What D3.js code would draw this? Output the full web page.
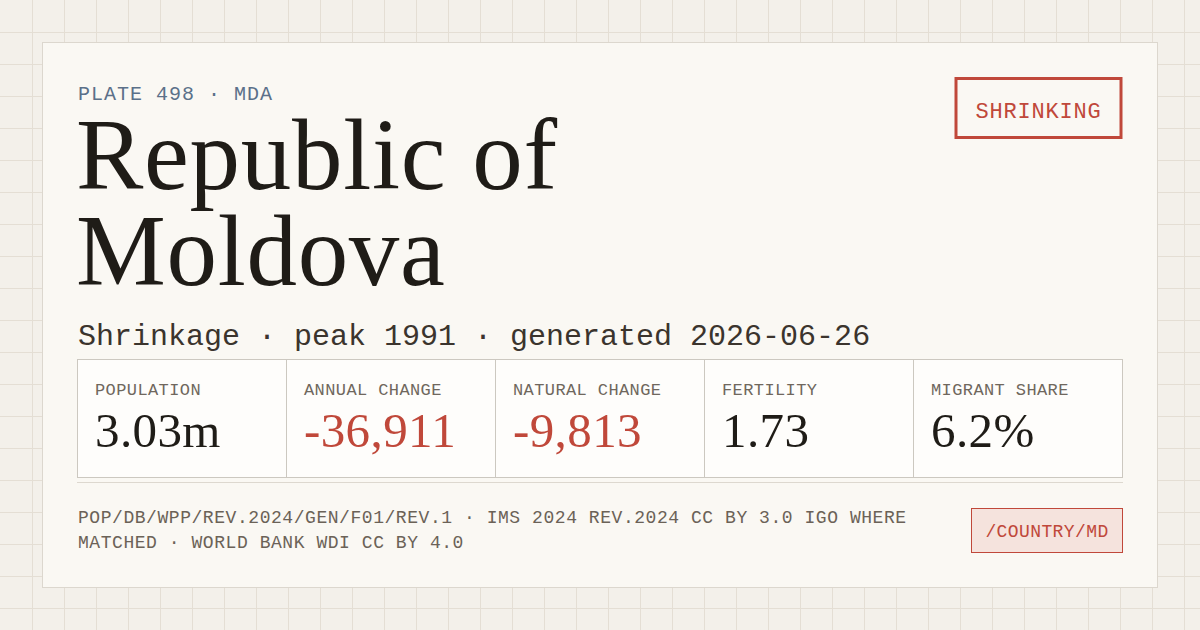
<!DOCTYPE html>
<html lang="en">
<head>
<meta charset="UTF-8">
<script src="https://cdn.jsdelivr.net/npm/d3@7"></script>
<title>Republic of Moldova</title>
<style>
  html, body { margin: 0; padding: 0; background: #f3f0ea; }
  svg { display: block; }
</style>
</head>
<body>
<script>
    var width = 1200;
    var height = 630;

    // card content
    var plate = "PLATE 498 · MDA";
    var titleLines = ["Republic of", "Moldova"];
    var subtitle = "Shrinkage · peak 1991 · generated 2026-06-26";
    var badge = "SHRINKING";

    // the five stats
    var statLabels = ["POPULATION", "ANNUAL CHANGE", "NATURAL CHANGE", "FERTILITY", "MIGRANT SHARE"];
    var statValues = ["3.03m", "-36,911", "-9,813", "1.73", "6.2%"];

    var footerLines = [
        "POP/DB/WPP/REV.2024/GEN/F01/REV.1 · IMS 2024 REV.2024 CC BY 3.0 IGO WHERE",
        "MATCHED · WORLD BANK WDI CC BY 4.0"
    ];
    var linkText = "/COUNTRY/MD";

    var mono = "'Liberation Mono', 'DejaVu Sans Mono', monospace";
    var serif = "'Liberation Serif', 'DejaVu Serif', serif";
    var red = "#c0483a";

    var svg = d3.select("body").append("svg")
        .attr("width", width)
        .attr("height", height);

    // background grid, 32px
    svg.append("rect").attr("width", width).attr("height", height).attr("fill", "#f3f0ea");
    var grid = svg.append("g").attr("stroke", "#e4ded4").attr("stroke-width", 1);
    grid.selectAll(".v").data(d3.range(32, width, 32)).enter().append("line")
        .attr("x1", function (d) { return d + 0.5; }).attr("x2", function (d) { return d + 0.5; })
        .attr("y1", 0).attr("y2", height);
    grid.selectAll(".h").data(d3.range(32, height, 32)).enter().append("line")
        .attr("y1", function (d) { return d + 0.5; }).attr("y2", function (d) { return d + 0.5; })
        .attr("x1", 0).attr("x2", width);

    // card
    svg.append("rect")
        .attr("x", 42.5).attr("y", 42.5)
        .attr("width", 1115).attr("height", 545)
        .attr("fill", "#faf8f3")
        .attr("stroke", "#dcd7ce");

    svg.append("text")
        .text(plate)
        .attr("x", 78).attr("y", 100)
        .attr("font-family", mono).attr("font-size", 20)
        .attr("letter-spacing", 1)
        .attr("fill", "#5b7089");

    svg.selectAll(".title").data(titleLines).enter().append("text")
        .text(function (d) { return d; })
        .attr("x", 76)
        .attr("y", function (d, i) { return 189 + i * 96; })
        .attr("font-family", serif).attr("font-size", 101)
        .attr("letter-spacing", 0.7)
        .attr("fill", "#1f1c17");

    svg.append("text")
        .text(subtitle)
        .attr("x", 78).attr("y", 345)
        .attr("font-family", mono).attr("font-size", 30)
        .attr("fill", "#3b342d");

    // badge
    svg.append("rect")
        .attr("x", 956).attr("y", 78.5)
        .attr("width", 165).attr("height", 59)
        .attr("fill", "none")
        .attr("stroke", red).attr("stroke-width", 3);
    svg.append("text")
        .text(badge)
        .attr("x", 1038.5).attr("y", 118)
        .attr("text-anchor", "middle")
        .attr("font-family", mono).attr("font-size", 22)
        .attr("letter-spacing", 0.8)
        .attr("fill", red);

    // stats row
    var x = d3.scaleBand()
        .domain(statLabels)
        .range([77.5, 1122.5])
        .padding(0);

    var cells = svg.selectAll(".cell")
        .data(statLabels)
        .enter()
        .append("g")
        .attr("transform", function (d) { return "translate(" + x(d) + ",359.5)"; });

    cells.append("rect")
        .attr("width", x.bandwidth())
        .attr("height", 118)
        .attr("fill", "#fefdfb")
        .attr("stroke", "#ccc8c0");

    cells.append("text")
        .text(function (d) { return d; })
        .attr("x", 17.5).attr("y", 35.5)
        .attr("font-family", mono).attr("font-size", 17)
        .attr("letter-spacing", 0.4)
        .attr("fill", "#6f675d");

    cells.append("text")
        .text(function (d, i) { return statValues[i]; })
        .attr("x", 17.5).attr("y", 87.5)
        .attr("font-family", serif).attr("font-size", 49)
        .attr("letter-spacing", 0.4)
        .attr("fill", function (d, i) { return statValues[i].charAt(0) === "-" ? red : "#1f1c17"; });

    svg.append("line")
        .attr("x1", 77).attr("x2", 1123)
        .attr("y1", 482.5).attr("y2", 482.5)
        .attr("stroke", "#ddd8cf");

    // footer
    svg.selectAll(".foot").data(footerLines).enter().append("text")
        .text(function (d) { return d; })
        .attr("x", 78)
        .attr("y", function (d, i) { return 523 + i * 25; })
        .attr("font-family", mono).attr("font-size", 18)
        .attr("letter-spacing", 0.55)
        .attr("fill", "#6b6257");

    svg.append("rect")
        .attr("x", 971.5).attr("y", 508.5)
        .attr("width", 151).attr("height", 44)
        .attr("fill", "#f5e3dd")
        .attr("stroke", red).attr("stroke-width", 1);
    svg.append("text")
        .text(linkText)
        .attr("x", 1047).attr("y", 537)
        .attr("text-anchor", "middle")
        .attr("font-family", mono).attr("font-size", 18)
        .attr("letter-spacing", 0.4)
        .attr("fill", red);
</script>
</body>
</html>
